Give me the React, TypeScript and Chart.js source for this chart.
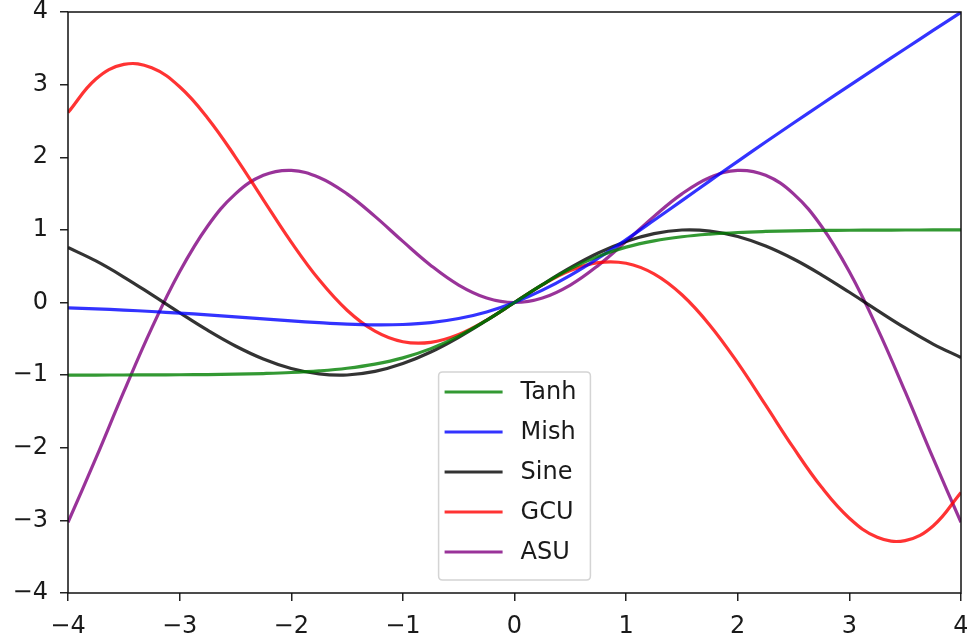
import { useEffect, useRef } from 'react';
import { Chart, registerables } from 'chart.js';

Chart.register(...registerables);

const xValues = [-4, -3.75, -3.5, -3.25, -3, -2.75, -2.5, -2.25, -2, -1.75, -1.5, -1.25, -1, -0.75, -0.5, -0.25, 0, 0.25, 0.5, 0.75, 1, 1.25, 1.5, 1.75, 2, 2.25, 2.5, 2.75, 3, 3.25, 3.5, 3.75, 4];

const tanhValues = [-0.999, -0.999, -0.998, -0.997, -0.995, -0.992, -0.987, -0.978, -0.964, -0.941, -0.905, -0.848, -0.762, -0.635, -0.462, -0.245, 0, 0.245, 0.462, 0.635, 0.762, 0.848, 0.905, 0.941, 0.964, 0.978, 0.987, 0.992, 0.995, 0.997, 0.998, 0.999, 0.999];

const mishValues = [-0.073, -0.087, -0.104, -0.124, -0.146, -0.17, -0.197, -0.225, -0.253, -0.278, -0.298, -0.308, -0.303, -0.277, -0.221, -0.13, 0, 0.17, 0.375, 0.61, 0.865, 1.132, 1.403, 1.675, 1.944, 2.21, 2.471, 2.73, 2.987, 3.241, 3.494, 3.746, 3.997];

const sineValues = [0.757, 0.572, 0.351, 0.108, -0.141, -0.382, -0.599, -0.778, -0.909, -0.984, -0.998, -0.949, -0.841, -0.682, -0.479, -0.247, 0, 0.247, 0.479, 0.682, 0.841, 0.949, 0.998, 0.984, 0.909, 0.778, 0.599, 0.382, 0.141, -0.108, -0.351, -0.572, -0.757];

const gcuValues = [2.615, 3.077, 3.278, 3.231, 2.97, 2.542, 2.003, 1.414, 0.832, 0.312, -0.106, -0.394, -0.54, -0.549, -0.439, -0.242, 0, 0.242, 0.439, 0.549, 0.54, 0.394, 0.106, -0.312, -0.832, -1.414, -2.003, -2.542, -2.97, -3.231, -3.278, -3.077, -2.615];

const asuValues = [-3.027, -2.144, -1.228, -0.352, 0.423, 1.05, 1.496, 1.751, 1.819, 1.722, 1.496, 1.186, 0.841, 0.511, 0.24, 0.062, 0, 0.062, 0.24, 0.511, 0.841, 1.186, 1.496, 1.722, 1.819, 1.751, 1.496, 1.05, 0.423, -0.352, -1.228, -2.144, -3.027];

const seriesNames = ['Tanh', 'Mish', 'Sine', 'GCU', 'ASU'];
const seriesValues = [tanhValues, mishValues, sineValues, gcuValues, asuValues];
const seriesColors = [
  'rgba(0,128,0,0.8)',
  'rgba(0,0,255,0.8)',
  'rgba(0,0,0,0.8)',
  'rgba(255,0,0,0.8)',
  'rgba(128,0,128,0.8)',
];

const xTicks = [-4, -3, -2, -1, 0, 1, 2, 3, 4];
const yTicks = [-4, -3, -2, -1, 0, 1, 2, 3, 4];

const FONT_FAMILY = '"DejaVu Sans", sans-serif';
const FONT_SIZE = 24;
const TEXT_COLOR = '#1a1a1a';

const fmt = (v: number) => (v < 0 ? '\u2212' + Math.abs(v) : String(v));

const framePlugin = {
  id: 'frame',
  afterDatasetsDraw(chart: any) {
    const { ctx, chartArea } = chart;
    ctx.save();
    ctx.strokeStyle = '#111';
    ctx.lineWidth = 1.5;
    ctx.strokeRect(chartArea.left, chartArea.top, chartArea.right - chartArea.left, chartArea.bottom - chartArea.top);
    ctx.restore();
  },
};

const legendPlugin = {
  id: 'boxLegend',
  afterDraw(chart: any) {
    const { ctx, chartArea } = chart;
    const ds = chart.data.datasets;
    ctx.save();
    ctx.font = `${FONT_SIZE}px ${FONT_FAMILY}`;
    const textW = Math.max(...ds.map((d: any) => ctx.measureText(d.label).width));
    const padL = 6;
    const lineLen = 58;
    const gap = 18;
    const padR = 14;
    const rowH = 40;
    const padTop = 20;
    const padBottom = 28;
    const boxW = padL + lineLen + gap + textW + padR;
    const boxH = padTop + rowH * (ds.length - 1) + padBottom;
    const cx = (chartArea.left + chartArea.right) / 2;
    const x0 = cx - boxW / 2;
    const y0 = chartArea.bottom - 13 - boxH;
    const r = 4;
    ctx.beginPath();
    ctx.moveTo(x0 + r, y0);
    ctx.lineTo(x0 + boxW - r, y0);
    ctx.quadraticCurveTo(x0 + boxW, y0, x0 + boxW, y0 + r);
    ctx.lineTo(x0 + boxW, y0 + boxH - r);
    ctx.quadraticCurveTo(x0 + boxW, y0 + boxH, x0 + boxW - r, y0 + boxH);
    ctx.lineTo(x0 + r, y0 + boxH);
    ctx.quadraticCurveTo(x0, y0 + boxH, x0, y0 + boxH - r);
    ctx.lineTo(x0, y0 + r);
    ctx.quadraticCurveTo(x0, y0, x0 + r, y0);
    ctx.closePath();
    ctx.fillStyle = 'rgba(255,255,255,0.8)';
    ctx.fill();
    ctx.strokeStyle = '#d4d4d4';
    ctx.lineWidth = 1.5;
    ctx.stroke();
    ds.forEach((d: any, i: number) => {
      const y = y0 + padTop + i * rowH;
      ctx.beginPath();
      ctx.strokeStyle = d.borderColor;
      ctx.lineWidth = d.borderWidth;
      ctx.moveTo(x0 + padL, y);
      ctx.lineTo(x0 + padL + lineLen, y);
      ctx.stroke();
      ctx.fillStyle = TEXT_COLOR;
      ctx.textBaseline = 'middle';
      ctx.textAlign = 'left';
      ctx.fillText(d.label, x0 + padL + lineLen + gap, y + 1);
    });
    ctx.restore();
  },
};

export default function App() {
  const canvasRef = useRef<HTMLCanvasElement | null>(null);

  useEffect(() => {
    if (!canvasRef.current) return;
    const chart = new Chart(canvasRef.current, {
      type: 'line',
      data: {
        datasets: seriesNames.map((name, i) => ({
          label: name,
          data: xValues.map((x, j) => ({ x, y: seriesValues[i][j] })),
          borderColor: seriesColors[i],
          backgroundColor: seriesColors[i],
          borderWidth: 3.2,
          pointRadius: 0,
          tension: 0.4,
          fill: false,
        })),
      },
      options: {
        responsive: false,
        animation: false,
        devicePixelRatio: 1,
        layout: { padding: { top: 12, right: 6, left: 0, bottom: 0 } },
        plugins: { legend: { display: false }, tooltip: { enabled: false } },
        scales: {
          x: {
            type: 'linear',
            min: -4,
            max: 4,
            afterBuildTicks: (scale: any) => {
              scale.ticks = xTicks.map((v) => ({ value: v }));
            },
            afterFit: (scale: any) => {
              scale.height = 50;
              scale.paddingLeft = 0;
              scale.paddingRight = 0;
            },
            border: { display: false },
            grid: { drawOnChartArea: false, drawTicks: true, tickLength: 8, color: '#222', lineWidth: 1.5 },
            ticks: {
              callback: (v: any) => fmt(Number(v)),
              color: TEXT_COLOR,
              font: { family: FONT_FAMILY, size: FONT_SIZE },
              padding: 11,
              maxRotation: 0,
              autoSkip: false,
            },
          },
          y: {
            type: 'linear',
            min: -4,
            max: 4,
            afterBuildTicks: (scale: any) => {
              scale.ticks = yTicks.map((v) => ({ value: v }));
            },
            afterFit: (scale: any) => {
              scale.width = 68;
              scale.paddingTop = 0;
              scale.paddingBottom = 0;
            },
            border: { display: false },
            grid: { drawOnChartArea: false, drawTicks: true, tickLength: 8, color: '#222', lineWidth: 1.5 },
            ticks: {
              callback: (v: any) => fmt(Number(v)),
              color: TEXT_COLOR,
              font: { family: FONT_FAMILY, size: FONT_SIZE },
              padding: 12,
              autoSkip: false,
            },
          },
        },
      },
      plugins: [framePlugin, legendPlugin],
    });
    return () => chart.destroy();
  }, []);

  return (
    <div style={{ position: 'fixed', left: 0, top: 0, width: 967, height: 643, background: '#fff' }}>
      <canvas ref={canvasRef} width={967} height={643} style={{ display: 'block' }} />
    </div>
  );
}
